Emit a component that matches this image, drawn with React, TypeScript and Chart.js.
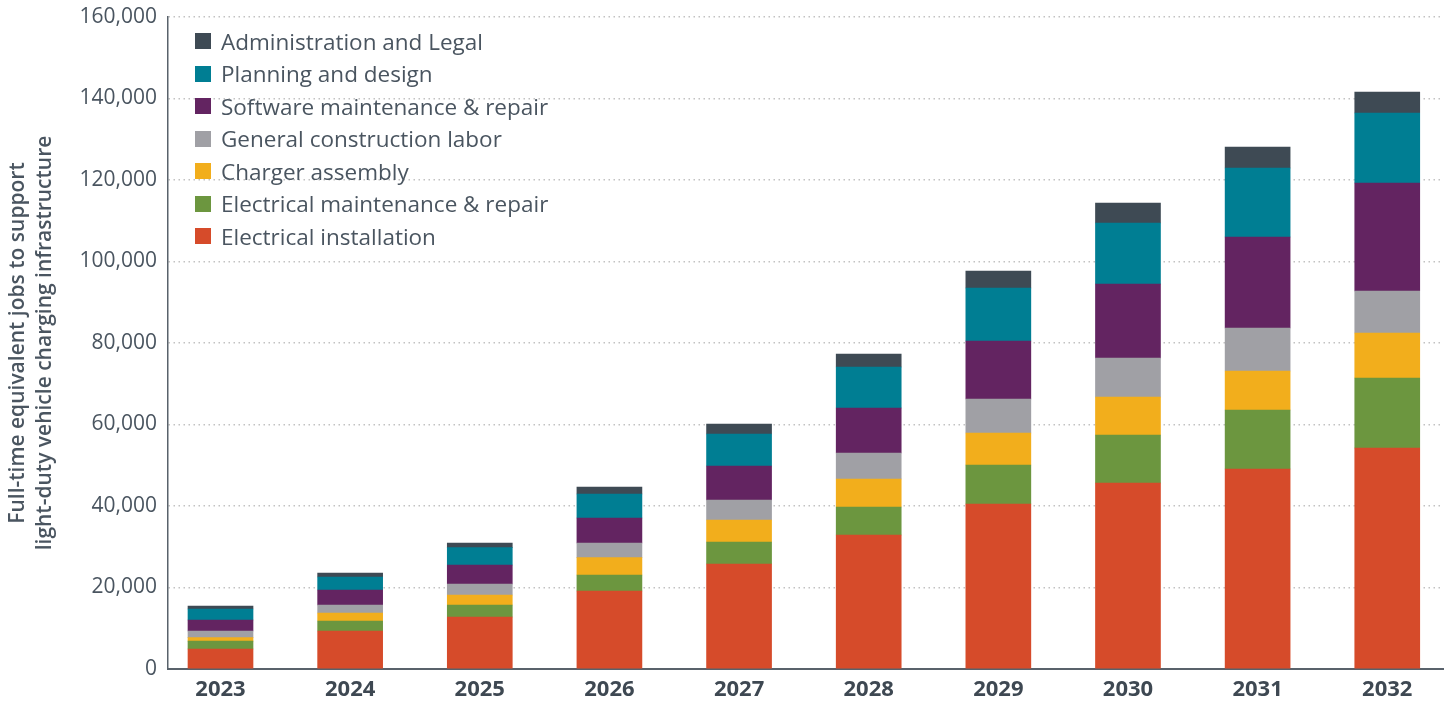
import React, { useEffect, useRef } from "react";
import { Chart, registerables } from "chart.js";

Chart.register(...registerables);

const years = ["2023", "2024", "2025", "2026", "2027", "2028", "2029", "2030", "2031", "2032"];

const electricalInstallation = [4900, 9330, 12760, 19140, 25770, 32880, 40490, 45640, 49080, 54230];
const electricalMaintenance = [1960, 2450, 2950, 3930, 5400, 6870, 9570, 11780, 14480, 17180];
const chargerAssembly = [820, 1960, 2450, 4250, 5400, 6870, 7850, 9330, 9570, 11040];
const generalConstruction = [1640, 1960, 2700, 3600, 4910, 6380, 8340, 9570, 10550, 10310];
const softwareMaintenance = [2700, 3680, 4660, 6140, 8340, 11040, 14230, 18160, 22330, 26500];
const planningDesign = [2700, 3190, 4250, 5890, 7850, 10060, 13010, 14970, 16930, 17180];
const adminLegal = [740, 980, 1150, 1720, 2450, 3190, 4170, 4910, 5150, 5150];

const yTicks = [0, 20000, 40000, 60000, 80000, 100000, 120000, 140000, 160000];

const seriesNames = [
  "Electrical installation",
  "Electrical maintenance & repair",
  "Charger assembly",
  "General construction labor",
  "Software maintenance & repair",
  "Planning and design",
  "Administration and Legal",
];
const seriesValues = [
  electricalInstallation,
  electricalMaintenance,
  chargerAssembly,
  generalConstruction,
  softwareMaintenance,
  planningDesign,
  adminLegal,
];
const seriesColors = ["#d64b2a", "#6c963f", "#f2ae1c", "#a0a0a5", "#632461", "#007e93", "#3e4a54"];

const textColor = "#4a5560";
const FONT = "'Open Sans', 'Noto Sans', sans-serif";

export default function App() {
  const canvasRef = useRef<HTMLCanvasElement | null>(null);

  useEffect(() => {
    if (!canvasRef.current) return;
    const chart = new Chart(canvasRef.current, {
      type: "bar",
      data: {
        datasets: seriesNames.map((name, s) => ({
          label: name,
          data: seriesValues[s].map((v, i) => ({ x: i, y: v })),
          backgroundColor: seriesColors[s],
          borderWidth: 0,
          barThickness: 65,
        })),
      },
      options: {
        responsive: false,
        animation: false,
        events: [],
        layout: { padding: { top: 17, right: 5, left: 0, bottom: 0 } },
        plugins: {
          legend: { display: false },
          tooltip: { enabled: false },
        },
        scales: {
          x: {
            type: "linear",
            stacked: true,
            offset: false,
            min: -0.405,
            max: years.length - 1 + 0.43,
            afterBuildTicks: (scale: any) => {
              scale.ticks = years.map((_, i) => ({ value: i }));
            },
            afterFit: (scale: any) => {
              scale.height = 33;
              scale.paddingLeft = 0;
              scale.paddingRight = 0;
            },
            grid: { display: false, drawTicks: false },
            border: { display: true, color: "#59626b", width: 2 },
            ticks: {
              padding: 8,
              color: "#3e4852",
              font: { family: FONT, size: 22, weight: "bold" },
              callback: (v: any) => years[v] ?? "",
              maxRotation: 0,
              autoSkip: false,
            },
          },
          y: {
            stacked: true,
            min: 0,
            max: 160000,
            afterBuildTicks: (scale: any) => {
              scale.ticks = yTicks.map((v) => ({ value: v }));
            },
            afterFit: (scale: any) => {
              scale.width = 168;
              scale.paddingTop = 0;
              scale.paddingBottom = 0;
            },
            grid: {
              color: "#c2c2c2",
              lineWidth: 1.5,
              drawTicks: false,
            },
            border: { display: true, color: "#59626b", width: 1.5, dash: [1.5, 3.5] },
            ticks: {
              padding: 11,
              color: textColor,
              font: { family: FONT, size: 21 },
              callback: (v: any) => Number(v).toLocaleString("en-US"),
            },
            title: {
              display: true,
              text: ["Full-time equivalent jobs to support", "light-duty vehicle charging infrastructure"],
              color: textColor,
              font: { family: FONT, size: 21, weight: "600", lineHeight: 1.3 },
              padding: { top: 4.3, bottom: 0 },
            },
          },
        },
      } as any,
    });
    return () => chart.destroy();
  }, []);

  const legendOrder = [6, 5, 4, 3, 2, 1, 0];

  return (
    <div style={{ position: "fixed", left: 0, top: 0, width: 1448, height: 702, background: "#fff" }}>
      <canvas ref={canvasRef} width={1448} height={702} style={{ display: "block" }} />
      <div style={{ position: "absolute", left: 195, top: 24.75, fontFamily: FONT, fontSize: 22.5, color: textColor }}>
        {legendOrder.map((s) => (
          <div key={s} style={{ display: "flex", alignItems: "center", height: 32.5, whiteSpace: "nowrap" }}>
            <span style={{ display: "inline-block", width: 16, height: 16, background: seriesColors[s], marginRight: 10 }} />
            <span>{seriesNames[s]}</span>
          </div>
        ))}
      </div>
    </div>
  );
}
